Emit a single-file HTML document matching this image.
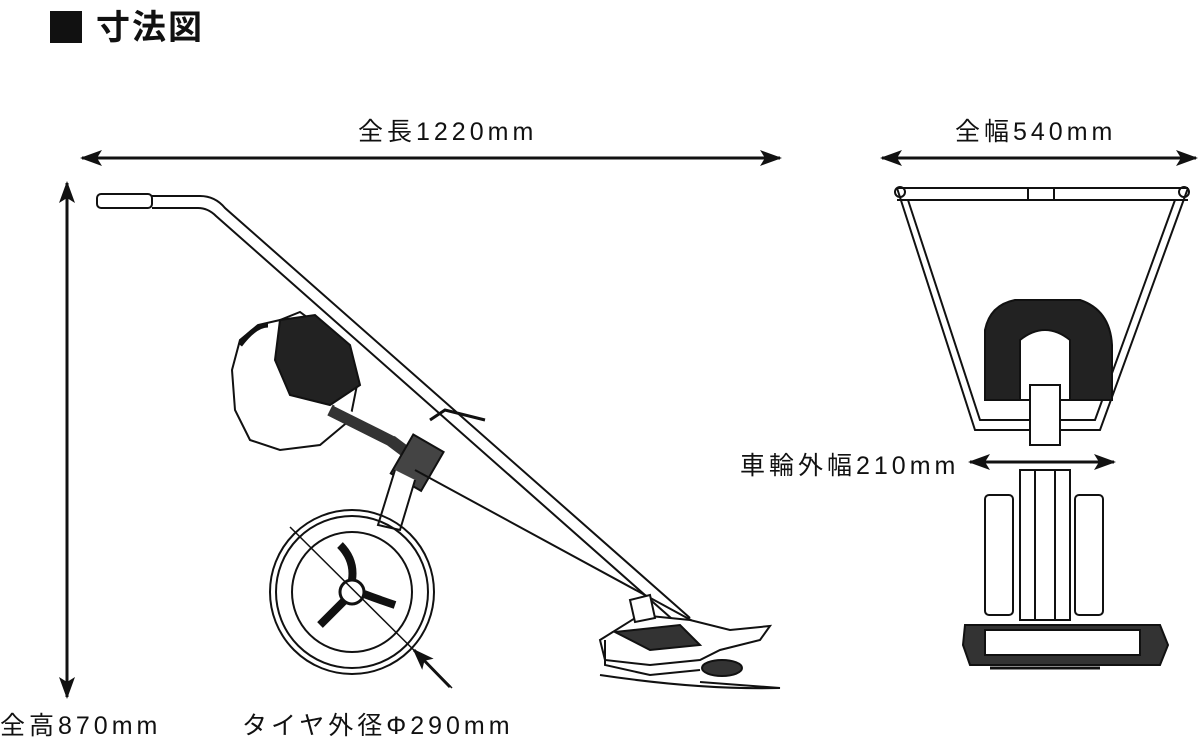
<!DOCTYPE html>
<html><head><meta charset="utf-8"><style>
html,body{margin:0;padding:0;background:#fff;}
body{width:1200px;height:741px;position:relative;overflow:hidden;font-family:"Liberation Sans","Noto Sans CJK JP",sans-serif;color:#111;}
.t{position:absolute;white-space:nowrap;letter-spacing:4px;}
</style></head><body>
<div class="t" style="left:50px;top:0px;font-size:34px;font-weight:bold;letter-spacing:2px;"><span style="display:inline-block;width:32px;height:32px;background:#111;vertical-align:-4px;margin-right:14px"></span>寸法図</div>
<div class="t" style="left:358px;top:112px;font-size:25px;">全長1220mm</div>
<div class="t" style="left:955px;top:112px;font-size:25px;">全幅540mm</div>
<div class="t" style="left:740px;top:446px;font-size:25px;">車輪外幅210mm</div>
<div class="t" style="left:0px;top:706px;font-size:25px;">全高870mm</div>
<div class="t" style="left:242px;top:706px;font-size:25px;">タイヤ外径Φ290mm</div>
<svg width="1200" height="741" style="position:absolute;left:0;top:0" xmlns="http://www.w3.org/2000/svg">
<defs>
<marker id="a" markerWidth="22" markerHeight="16" refX="20" refY="8" orient="auto-start-reverse" markerUnits="userSpaceOnUse" viewBox="0 0 22 16"><path d="M0,0 L22,8 L0,16 L5,8 z" fill="#111"/></marker>
</defs>
<g stroke="#111" stroke-width="3" fill="none">
<line x1="82" y1="158" x2="780" y2="158" marker-start="url(#a)" marker-end="url(#a)"/>
<line x1="882" y1="158" x2="1196" y2="158" marker-start="url(#a)" marker-end="url(#a)"/>
<line x1="67" y1="183" x2="67" y2="697" marker-start="url(#a)" marker-end="url(#a)"/>
<line x1="970" y1="462" x2="1114" y2="462" marker-start="url(#a)" marker-end="url(#a)"/>
</g>
<g stroke="#111" stroke-width="2" fill="none">
<rect x="97" y="194" width="55" height="14" rx="4"/>
<path d="M152,196 L200,196 Q215,196 225,208 L690,618"/>
<path d="M152,208 L198,208 Q208,208 216,216 L680,626"/>
<path d="M240,340 L258,325 L280,320 L300,312 L345,345 L358,380 L350,420 L320,445 L280,450 L250,440 L235,410 L232,370 Z" fill="#fff"/>
<path d="M280,320 L315,315 L350,345 L360,385 L330,405 L290,395 L275,360 Z" fill="#222"/>
<path d="M240,345 Q255,325 268,325" stroke-width="5"/>
<path d="M330,410 L390,440 L410,455" stroke-width="12" stroke="#333"/>
<path d="M335,405 L395,435" stroke="#fff" stroke-width="3"/>
<rect x="400" y="440" width="35" height="45" fill="#444" transform="rotate(30 417 462)"/>
<path d="M430,420 L445,410 L485,420" stroke-width="3"/>
<path d="M395,470 L378,525 L400,530 L415,480" fill="#fff"/>
<path d="M415,470 L700,625"/>
<circle cx="352" cy="592" r="82"/>
<circle cx="352" cy="592" r="76"/>
<circle cx="352" cy="592" r="60"/>
<circle cx="352" cy="592" r="12" stroke-width="3"/>
<path d="M340,545 Q355,560 352,580 M395,605 Q380,600 364,594 M320,625 Q335,610 345,600" stroke-width="8"/>
<line x1="290" y1="527" x2="452" y2="688" stroke-width="1.5"/>
<line x1="450" y1="687" x2="414" y2="650" marker-end="url(#a)" stroke-width="3"/>
<path d="M600,640 L640,615 L690,620 L730,630 L770,626 L760,640 L720,650 L700,660 L650,665 L605,660 Z" fill="#fff"/>
<path d="M605,640 L605,665 L650,675 L700,670"/>
<path d="M615,632 L680,625 L700,645 L650,650 Z" fill="#333"/>
<path d="M600,675 Q700,690 780,688 L700,682"/>
<ellipse cx="722" cy="668" rx="20" ry="8" fill="#333"/>
<path d="M630,600 L650,595 L655,618 L635,622 Z" fill="#fff"/>
<path d="M897,188 L1188,188 M897,200 L1188,200"/>
<rect x="1028" y="188" width="26" height="12"/>
<path d="M897,188 L975,430 L1100,430 L1188,188"/>
<path d="M908,200 L980,420 L1095,420 L1175,200"/>
<circle cx="900" cy="192" r="5"/><circle cx="1184" cy="192" r="5"/>
<path d="M985,330 Q990,305 1015,300 L1080,300 Q1110,310 1112,345 L1112,400 L985,400 Z" fill="#222"/>
<path d="M1020,340 Q1045,320 1070,340 L1070,400 L1020,400 Z" fill="#fff"/>
<rect x="1030" y="385" width="30" height="60" fill="#fff"/>
<rect x="985" y="495" width="28" height="120" rx="4"/>
<rect x="1075" y="495" width="28" height="120" rx="4"/>
<rect x="1020" y="470" width="50" height="150"/>
<path d="M1035,470 L1035,620 M1055,470 L1055,620"/>
<path d="M965,625 L1160,625 L1168,645 L1160,665 L970,665 L963,645 Z" fill="#333"/>
<rect x="985" y="630" width="155" height="25" fill="#fff"/>
<path d="M990,668 L1100,668" stroke-width="3"/>
</g>
</svg>
</body></html>
